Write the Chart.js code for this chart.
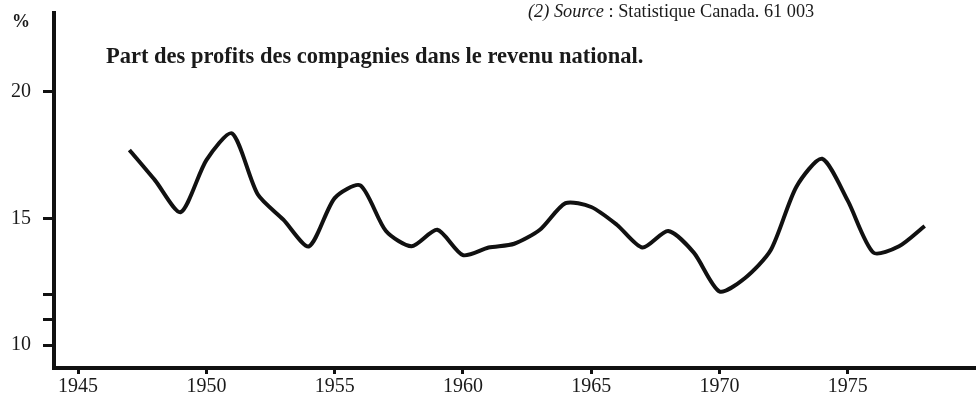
<!DOCTYPE html>
<html>
<head>
<meta charset="utf-8">
<script src="https://cdn.jsdelivr.net/npm/chart.js@4"></script>
<style>
  html, body { margin: 0; padding: 0; background: #fff; }
  #wrap { width: 976px; height: 400px; }
</style>
</head>
<body>
<div id="wrap"><canvas id="myChart" width="976" height="400"></canvas></div>
<script>
// Part des profits des compagnies dans le revenu national (%)
const years = [1947, 1948, 1949, 1950, 1951, 1952, 1953, 1954, 1955, 1956,
               1957, 1958, 1959, 1960, 1961, 1962, 1963, 1964, 1965, 1966,
               1967, 1968, 1969, 1970, 1971, 1972, 1973, 1974, 1975, 1976,
               1977, 1978];
const shares = [17.7, 16.5, 15.25, 17.3, 18.35, 15.95, 14.95, 13.9, 15.8, 16.3,
                14.5, 13.9, 14.55, 13.55, 13.85, 14.0, 14.55, 15.6, 15.45, 14.75,
                13.85, 14.5, 13.65, 12.12, 12.65, 13.75, 16.25, 17.35, 15.7, 13.65,
                13.9, 14.7];

const xTicks = [1945, 1950, 1955, 1960, 1965, 1970, 1975];
const yTicks = [10, 11, 12, 15, 20];
const yLabels = ['10', '', '', '15', '20'];

const titleText = 'Part des profits des compagnies dans le revenu national.';
const sourceNote = '(2) Source';
const sourceText = ' : Statistique Canada. 61 003';

const serif = '"Liberation Serif", "DejaVu Serif", serif';

// text drawn inside the frame (title, source, unit)
const annotations = {
    id: 'annotations',
    afterDraw(chart) {
        const c = chart.ctx;
        c.save();
        c.fillStyle = '#1a1a1a';
        c.textBaseline = 'alphabetic';
        c.font = 'bold 22.5px ' + serif;
        c.fillText(titleText, 106, 63);
        c.font = 'italic 18.3px ' + serif;
        c.fillText(sourceNote, 528, 17);
        const w = c.measureText(sourceNote).width;
        c.font = '18.3px ' + serif;
        c.fillText(sourceText, 528 + w, 17);
        c.font = 'bold 18px ' + serif;
        c.fillText('%', 12, 27);
        c.restore();
    }
};

const ctx = document.getElementById('myChart').getContext('2d');
const myChart = new Chart(ctx, {
    type: 'line',
    data: {
        datasets: [{
            data: years.map((y, i) => ({ x: y, y: shares[i] })),
            borderColor: '#111',
            borderWidth: 4,
            pointRadius: 0,
            tension: 0.25,
            fill: false
        }]
    },
    options: {
        responsive: false,
        animation: false,
        layout: { padding: { top: 13, right: 0, left: 0, bottom: 0 } },
        plugins: {
            legend: { display: false },
            tooltip: { enabled: false }
        },
        scales: {
            x: {
                type: 'linear',
                min: 1944.06,
                max: 1980,
                afterBuildTicks: axis => { axis.ticks = xTicks.map(v => ({ value: v })); },
                afterFit: axis => {
                    axis.height = 32;
                    axis.paddingLeft = 0;
                    axis.paddingRight = 0;
                },
                border: { color: '#111', width: 4 },
                grid: { drawOnChartArea: false, color: '#111', lineWidth: 3, tickLength: 6 },
                ticks: {
                    color: '#1a1a1a',
                    font: { family: serif, size: 20 },
                    padding: 1,
                    maxRotation: 0,
                    callback: v => String(v)
                }
            },
            y: {
                type: 'linear',
                min: 9.1,
                max: 23.1,
                afterBuildTicks: axis => { axis.ticks = yTicks.map(v => ({ value: v })); },
                afterFit: axis => {
                    axis.width = 54;
                    axis.paddingTop = 0;
                    axis.paddingBottom = 0;
                },
                border: { color: '#111', width: 4 },
                grid: { drawOnChartArea: false, color: '#111', lineWidth: 3, tickLength: 11 },
                ticks: {
                    color: '#1a1a1a',
                    font: { family: serif, size: 20 },
                    padding: 12,
                    callback: v => yLabels[yTicks.indexOf(v)] || ''
                }
            }
        }
    },
    plugins: [annotations]
});
</script>
</body>
</html>
